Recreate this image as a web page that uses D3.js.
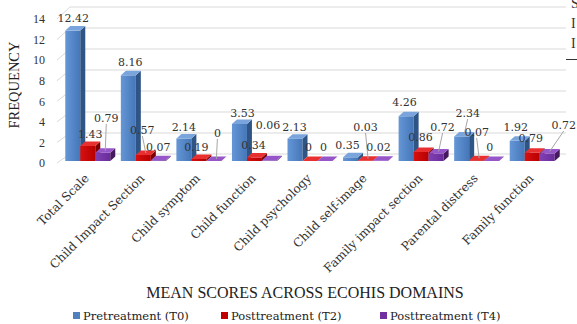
<!DOCTYPE html>
<html>
<head>
<meta charset="utf-8">
<script src="https://cdn.jsdelivr.net/npm/d3@7"></script>
<style>
  body { margin: 0; background: #fff; }
  svg { display: block; }
</style>
</head>
<body>
<svg></svg>
<script>
const categories = ["Total Scale", "Child Impact Section", "Child symptom", "Child function",
  "Child psychology", "Child self-image", "Family impact section", "Parental distress", "Family function"];
const seriesNames = ["Pretreatment (T0)", "Posttreatment (T2)", "Posttreatment (T4)"];
const pretreatment = [12.42, 8.16, 2.14, 3.53, 2.13, 0.35, 4.26, 2.34, 1.92];
const post2 = [1.43, 0.57, 0.19, 0.34, 0, 0.03, 0.86, 0.07, 0.79];
const post4 = [0.79, 0.07, 0, 0.06, 0, 0.02, 0.72, 0, 0.72];
const labelText = [
  ["12.42", "8.16", "2.14", "3.53", "2.13", "0.35", "4.26", "2.34", "1.92"],
  ["1.43", "0.57", "0.19", "0.34", "0", "0.03", "0.86", "0.07", "0.79"],
  ["0.79", "0.07", "0", "0.06", "0", "0.02", "0.72", "0", "0.72"]
];
const yTicks = [0, 2, 4, 6, 8, 10, 12, 14];

// label offsets from the bar top centre (some were dragged away in Excel)
const labelNudge = [
  [[0.5, -12.6], [2, -13.3], [0, -11.5], [3, -11], [-0.5, -11.6], [-3, -12.3], [-1.5, -14.3], [6, -23.4], [-1.5, -13.8]],
  [[2.5, -12], [-1, -25], [-2.5, -12], [-1, -12.4], [-1.5, -14], [0, -33.7], [-0.5, -15], [0, -28.3], [-1.5, -14.7]],
  [[3.5, -34.7], [0, -13], [3.5, -28], [-1.5, -35.4], [-1.5, -14], [-2, -14], [6.5, -26.4], [-2, -14], [16.5, -28.4]]
];
// labels that have a leader line: [series, category index]
const leaders = [[0, 7], [1, 1], [1, 5], [1, 7], [2, 0], [2, 2], [2, 6], [2, 8]];

const width = 577, height = 324;
const depthX = 5, depthY = 4.5;
const values = [pretreatment, post2, post4];
const data = categories.flatMap((c, i) => values.map((v, s) => ({
  cat: c, i, s, value: v[i], label: labelText[s][i], nudge: labelNudge[s][i]
})));

const svg = d3.select("svg")
  .attr("width", width)
  .attr("height", height)
  .attr("viewBox", [0, 0, width, height]);

const x = d3.scaleBand()
  .domain(categories)
  .range([60, 560])
  .paddingInner(0.19)
  .paddingOuter(0.095);

const xs = d3.scaleBand()
  .domain(d3.range(3))
  .range([0, x.bandwidth()]);

const y = d3.scaleLinear().domain([0, 14]).range([161, 14]);
const yAxisScale = d3.scaleLinear().domain([0, 14]).range([163, 19]);

const colors = [
  { front: ["#6596d6", "#4576b8"], top: "#7aa5dc", side: "#2f5587", legend: "#4f81bd" },
  { front: ["#d81010", "#b80000"], top: "#e83030", side: "#7c0000", legend: "#c00000" },
  { front: ["#8040b4", "#6a2c9a"], top: "#9655c8", side: "#46195f", legend: "#7030a0" }
];

const defs = svg.append("defs");
colors.forEach((c, s) => {
  const g = defs.append("linearGradient").attr("id", "front" + s)
    .attr("x1", 0).attr("x2", 1).attr("y1", 0).attr("y2", 0);
  g.append("stop").attr("offset", 0).attr("stop-color", c.front[0]);
  g.append("stop").attr("offset", 1).attr("stop-color", c.front[1]);
});

// back wall grid lines and left wall diagonals
const grid = svg.append("g").attr("stroke", "#d9d9d9").attr("stroke-width", 1);
grid.selectAll(".back")
  .data(yTicks)
  .join("line")
  .attr("x1", 70).attr("x2", 566)
  .attr("y1", d => y(d) - 7).attr("y2", d => y(d) - 7);
grid.selectAll(".side")
  .data(yTicks)
  .join("line")
  .attr("x1", 57).attr("y1", d => yAxisScale(d))
  .attr("x2", 70).attr("y2", d => y(d) - 7);

// y axis tick labels
svg.append("g")
  .attr("transform", "translate(47,0)")
  .call(d3.axisLeft(yAxisScale).tickValues(yTicks).tickSize(0).tickPadding(2))
  .call(g => g.select(".domain").remove())
  .call(g => g.selectAll("text")
    .attr("font-family", "Liberation Serif")
    .attr("font-size", 12)
    .attr("fill", "#333"));

// bars: front face, side face, top face
const bars = svg.append("g")
  .selectAll("g")
  .data(data)
  .join("g");

const x0 = d => x(d.cat) + xs(d.s);
const x1 = d => x0(d) + xs.bandwidth();

bars.append("rect")
  .attr("x", x0)
  .attr("y", d => y(d.value))
  .attr("width", xs.bandwidth())
  .attr("height", d => y(0) - y(d.value))
  .attr("fill", d => `url(#front${d.s})`);

bars.append("path")
  .attr("fill", d => colors[d.s].side)
  .attr("d", d => `M${x1(d)},${y(d.value)}L${x1(d) + depthX},${y(d.value) - depthY}L${x1(d) + depthX},${y(0) - depthY}L${x1(d)},${y(0)}Z`);

bars.append("path")
  .attr("fill", d => colors[d.s].top)
  .attr("d", d => `M${x0(d)},${y(d.value)}L${x0(d) + depthX},${y(d.value) - depthY}L${x1(d) + depthX},${y(d.value) - depthY}L${x1(d)},${y(d.value)}Z`);

// data labels
const cx = d => x0(d) + xs.bandwidth() / 2;
const hasLeader = d => leaders.some(([s, i]) => s === d.s && i === d.i);
const labels = svg.append("g");
labels.selectAll("line")
  .data(data.filter(hasLeader))
  .join("line")
  .attr("stroke", "#a6a6a6")
  .attr("x1", d => cx(d) + d.nudge[0])
  .attr("y1", d => y(d.value) + d.nudge[1] + 6)
  .attr("x2", d => cx(d) + depthX / 2)
  .attr("y2", d => y(d.value) - 2);

labels.selectAll("text")
  .data(data)
  .join("text")
  .attr("x", d => cx(d) + d.nudge[0])
  .attr("y", d => y(d.value) + d.nudge[1])
  .attr("dy", "0.35em")
  .attr("text-anchor", "middle")
  .attr("font-family", "DejaVu Serif")
  .attr("font-size", 11)
  .attr("fill", "#333")
  .text(d => d.label);

// category labels
svg.append("g")
  .selectAll("text")
  .data(categories)
  .join("text")
  .attr("transform", d => `translate(${x(d) + x.bandwidth() / 2 + 2},${179}) rotate(-45)`)
  .attr("text-anchor", "end")
  .attr("font-family", "DejaVu Serif")
  .attr("font-size", 12)
  .attr("fill", "#333")
  .text(d => d);

// axis titles
svg.append("text")
  .attr("x", 305).attr("y", 298)
  .attr("text-anchor", "middle")
  .attr("font-family", "Liberation Serif")
  .attr("font-size", 16)
  .attr("fill", "#222")
  .text("MEAN SCORES ACROSS  ECOHIS DOMAINS");

svg.append("text")
  .attr("transform", "translate(19,85) rotate(-90)")
  .attr("text-anchor", "middle")
  .attr("font-family", "Liberation Serif")
  .attr("font-size", 14.5)
  .attr("fill", "#222")
  .text("FREQUENCY");

// legend
const legendX = [73, 221, 380];
const legend = svg.append("g")
  .selectAll("g")
  .data(seriesNames)
  .join("g")
  .attr("transform", (d, i) => `translate(${legendX[i]},316)`);
legend.append("rect")
  .attr("x", 0).attr("y", -4)
  .attr("width", 7).attr("height", 7)
  .attr("fill", (d, i) => colors[i].legend);
legend.append("text")
  .attr("x", 10).attr("dy", "0.35em")
  .attr("font-family", "DejaVu Serif")
  .attr("font-size", 11.5)
  .attr("fill", "#222")
  .text(d => d);

// clipped neighbour text at the top right edge
svg.append("g")
  .selectAll("text")
  .data(["S", "I", "I"])
  .join("text")
  .attr("x", 571)
  .attr("y", (d, i) => 8 + i * 20)
  .attr("font-family", "Liberation Serif")
  .attr("font-size", 14)
  .attr("fill", "#333")
  .text(d => d);
svg.append("line")
  .attr("x1", 566).attr("x2", 577)
  .attr("y1", 59.5).attr("y2", 59.5)
  .attr("stroke", "#333");
</script>
</body>
</html>
